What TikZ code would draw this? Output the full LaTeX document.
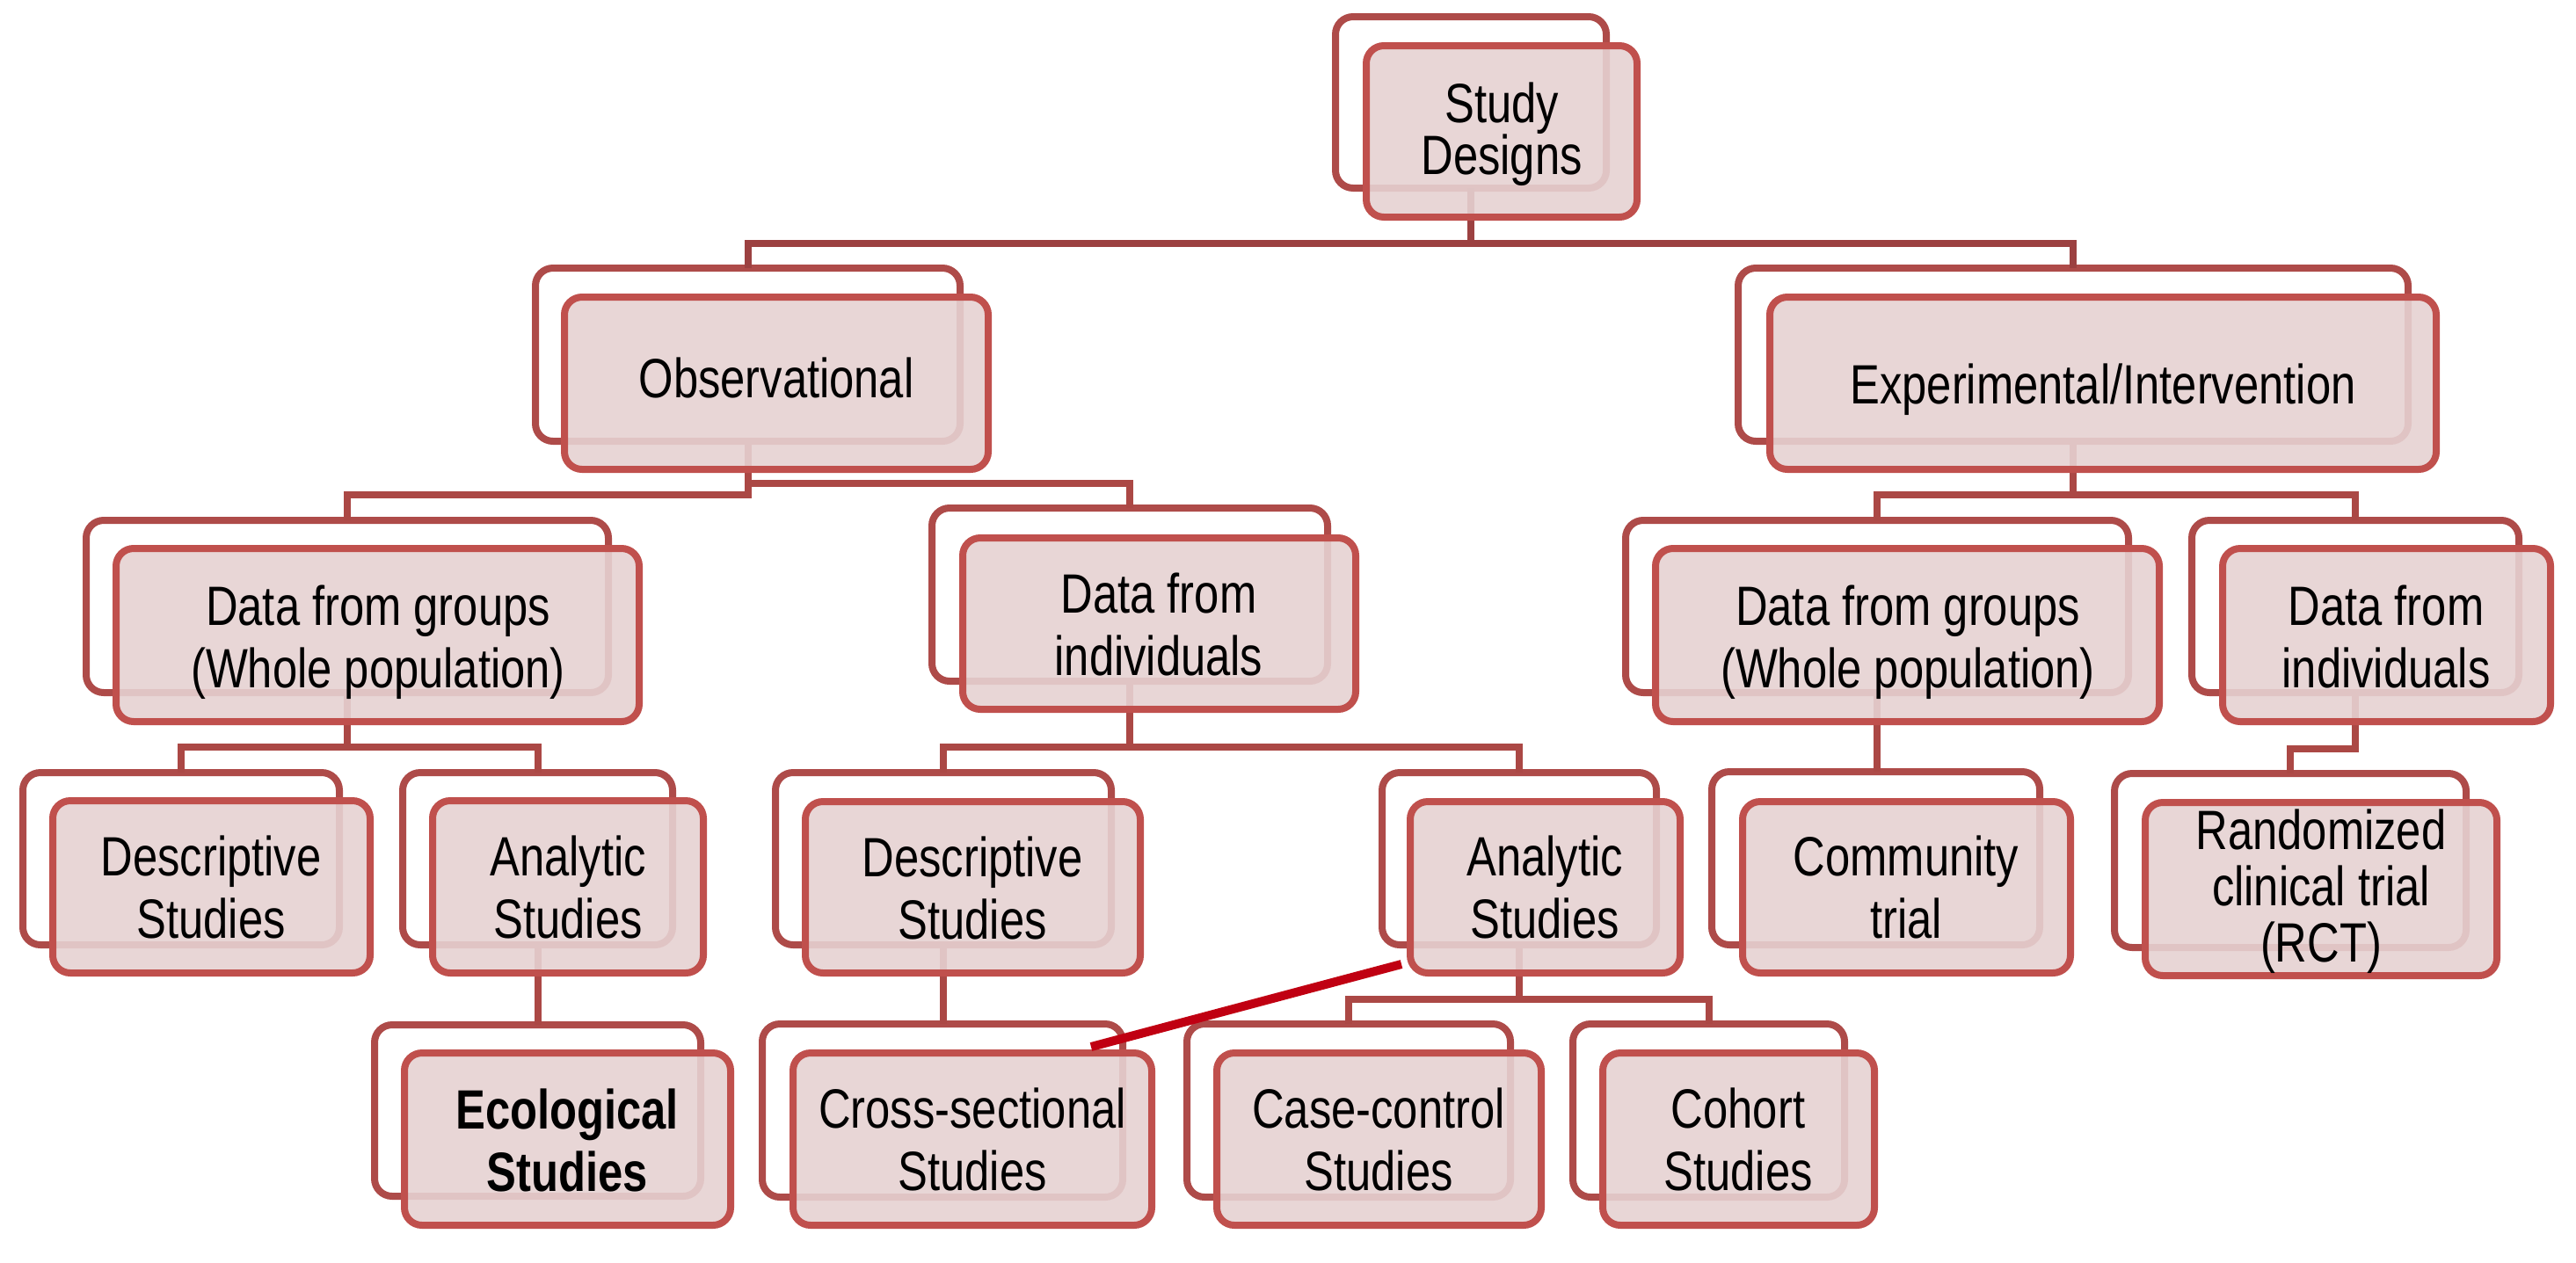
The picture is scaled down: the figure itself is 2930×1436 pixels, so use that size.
\documentclass[tikz,border=0pt]{standalone}
\usepackage{fontspec}
\setmainfont{Liberation Sans}[FakeStretch=0.805]
\usetikzlibrary{calc}
\definecolor{frontline}{HTML}{C0504D}
\definecolor{backline}{HTML}{AE4B49}
\definecolor{connline}{HTML}{AB4845}
\definecolor{topline}{HTML}{9C4141}
\definecolor{frontfill}{HTML}{E6D2D2}
\definecolor{hilite}{HTML}{C00012}
\newcommand{\backrect}[5]{%
  \node[backbox, minimum width={(#4-(#2))*0.25pt}, minimum height={(#5-(#3))*0.25pt}] (#1) at ({(#2+#4)/2},{(#3+#5)/2}) {};}
\newcommand{\frontrect}[5]{%
  \node[frontbox, minimum width={(#4-(#2))*0.25pt}, minimum height={(#5-(#3))*0.25pt}] (#1) at ({(#2+#4)/2},{(#3+#5)/2}) {};}
\newcommand{\ms}{\rule[-4pt]{0pt}{12.5pt}}
\newcommand{\mss}{\rule[-2.8pt]{0pt}{11.8pt}}
\newcommand{\msr}{\rule[-3pt]{0pt}{12.5pt}}
\newcommand{\tightlines}{\lineskiplimit=-100pt\relax\lineskip=0pt\relax}
\begin{document}
\begin{tikzpicture}[x=0.25pt,y=-0.25pt,
  backbox/.style={draw=backline, line width=2pt, rounded corners=5pt, fill=white, inner sep=0pt, outer sep=0pt},
  frontbox/.style={draw=frontline, line width=2pt, rounded corners=5pt, fill=frontfill, fill opacity=0.9, inner sep=0pt, outer sep=0pt},
  conn/.style={draw=connline, line width=2pt},
  topconn/.style={draw=topline, line width=2pt},
  lbl/.style={inner sep=0pt, outer sep=0pt, anchor=north, align=center, text=black, font=\fontsize{15.75}{17.75}\selectfont\tightlines},
]
\useasboundingbox (0,0) rectangle (2930,1436);
% back rectangles
\backrect{SDb}{1519}{19}{1827}{214}
\backrect{Obsb}{609}{305}{1092}{502}
\backrect{Expb}{1977}{305}{2739}{502}
\backrect{DGLb}{98}{592}{692}{788}
\backrect{DIMb}{1060}{578}{1510}{775}
\backrect{DGRb}{1849}{592}{2421}{788}
\backrect{DIRb}{2493}{592}{2865}{788}
\backrect{DescLb}{26}{879}{386}{1075}
\backrect{AnaLb}{458}{879}{765}{1075}
\backrect{Ecob}{426}{1166}{797}{1361}
\backrect{DescMb}{882}{879}{1264}{1075}
\backrect{AnaMb}{1572}{879}{1884}{1075}
\backrect{Crossb}{867}{1165}{1277}{1362}
\backrect{Caseb}{1350}{1165}{1718}{1362}
\backrect{Cohb}{1789}{1165}{2098}{1362}
\backrect{Commb}{1947}{878}{2320}{1075}
\backrect{RCTb}{2405}{880}{2805}{1078}
% elbow levels
\coordinate (ySD) at (0,277);
\coordinate (yObsL) at (0,563);
\coordinate (yObsR) at (0,550);
\coordinate (yExp) at (0,563);
\coordinate (yDGL) at (0,850);
\coordinate (yDIM) at (0,850);
\coordinate (yDIR) at (0,852);
\coordinate (yAnaM) at (0,1137);
% connectors
\draw[topconn] (SDb.south) -- (SDb.south |- ySD) -| (Obsb.north);
\draw[topconn] (SDb.south |- ySD) -| (Expb.north);
\draw[conn] (Obsb.south) -- (Obsb.south |- yObsL) -| (DGLb.north);
\draw[conn] (Obsb.south) -- (Obsb.south |- yObsR) -| (DIMb.north);
\draw[conn] (Expb.south) -- (Expb.south |- yExp) -| (DGRb.north);
\draw[conn] (Expb.south |- yExp) -| (DIRb.north);
\draw[conn] (DGLb.south) -- (DGLb.south |- yDGL) -| (DescLb.north);
\draw[conn] (DGLb.south |- yDGL) -| (AnaLb.north);
\draw[conn] (DIMb.south) -- (DIMb.south |- yDIM) -| (DescMb.north);
\draw[conn] (DIMb.south |- yDIM) -| (AnaMb.north);
\draw[conn] (DGRb.south) -- (DGRb.south |- Commb.north);
\draw[conn] (DIRb.south) -- (DIRb.south |- yDIR) -| (RCTb.north);
\draw[conn] (AnaLb.south) -- (AnaLb.south |- Ecob.north);
\draw[conn] (DescMb.south) -- (DescMb.south |- Crossb.north);
\draw[conn] (AnaMb.south) -- (AnaMb.south |- yAnaM) -| (Caseb.north);
\draw[conn] (AnaMb.south |- yAnaM) -| (Cohb.north);
% front rectangles
\frontrect{SDf}{1554}{52}{1862}{247}
\frontrect{Obsf}{642}{338}{1124}{534}
\frontrect{Expf}{2013}{338}{2771}{534}
\frontrect{DGLf}{132}{624}{727}{821}
\frontrect{DIMf}{1095}{612}{1542}{807}
\frontrect{DGRf}{1883}{624}{2456}{821}
\frontrect{DIRf}{2528}{624}{2901}{821}
\frontrect{DescLf}{60}{911}{421}{1107}
\frontrect{AnaLf}{492}{911}{800}{1107}
\frontrect{Ecof}{460}{1198}{831}{1394}
\frontrect{DescMf}{916}{912}{1297}{1107}
\frontrect{AnaMf}{1604}{912}{1911}{1107}
\frontrect{Crossf}{902}{1198}{1310}{1394}
\frontrect{Casef}{1384}{1198}{1753}{1394}
\frontrect{Cohf}{1823}{1198}{2132}{1394}
\frontrect{Commf}{1982}{912}{2355}{1107}
\frontrect{RCTf}{2440}{913}{2840}{1110}
% labels
\node[lbl, font=\fontsize{15.75}{14.75}\selectfont\tightlines] (tSD) at (1708,94) {\mss Study\\\mss Designs};
\node[lbl] (tObs) at (883,407) {\ms Observational};
\node[lbl] (tExp) at (2392,414) {\ms Experimental/Intervention};
\node[lbl] (tDGL) at (430,666) {\ms Data from groups\\\ms (Whole population)};
\node[lbl] (tDIM) at (1318,652) {\ms Data from\\\ms individuals};
\node[lbl] (tDGR) at (2170,666) {\ms Data from groups\\\ms (Whole population)};
\node[lbl] (tDIR) at (2714,666) {\ms Data from\\\ms individuals};
\node[lbl] (tDescL) at (240,951) {\ms Descriptive\\\ms Studies};
\node[lbl] (tAnaL) at (646,951) {\ms Analytic\\\ms Studies};
\node[lbl, font=\fontsize{15.75}{17.75}\selectfont\tightlines\bfseries] (tEco) at (645,1239) {\ms Ecological\\\ms Studies};
\node[lbl] (tDescM) at (1106,952) {\ms Descriptive\\\ms Studies};
\node[lbl] (tAnaM) at (1757,951) {\ms Analytic\\\ms Studies};
\node[lbl] (tCross) at (1106,1238) {\ms Cross-sectional\\\ms Studies};
\node[lbl] (tCase) at (1568,1238) {\ms Case-control\\\ms Studies};
\node[lbl] (tCoh) at (1977,1238) {\ms Cohort\\\ms Studies};
\node[lbl] (tComm) at (2168,951) {\ms Community\\\ms trial};
\node[lbl, font=\fontsize{15.75}{16}\selectfont\tightlines] (tRCT) at (2640,921) {\msr Randomized\\\msr clinical trial\\\msr (RCT)};
% highlight line
\coordinate (r1) at (1594,1097);
\coordinate (r2) at (1241,1191);
\draw[draw=hilite, line width=2.5pt] (r1) -- (r2);
\end{tikzpicture}
\end{document}
